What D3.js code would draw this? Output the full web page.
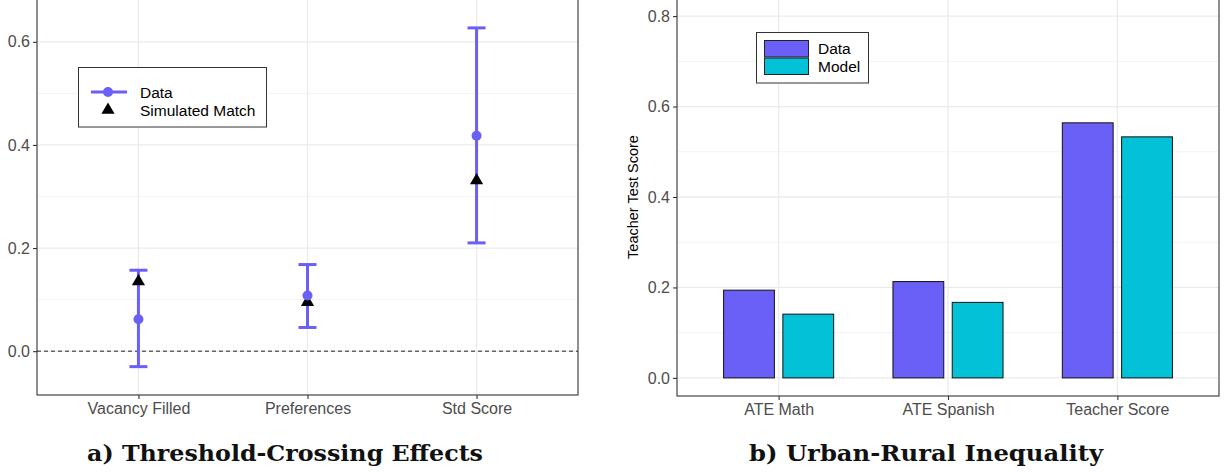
<!DOCTYPE html>
<html>
<head>
<meta charset="utf-8">
<script src="https://cdn.jsdelivr.net/npm/d3@7"></script>
<style>
html,body{margin:0;padding:0;background:#fff;}
svg{display:block;}
</style>
</head>
<body>
<svg id="chart" width="1225" height="472"></svg>
<script>
// ---- Panel a data ----
const catsA = ["Vacancy Filled", "Preferences", "Std Score"];
const estA  = [0.062, 0.108, 0.418];
const lowA  = [-0.030, 0.046, 0.210];
const highA = [0.157, 0.168, 0.627];
const simA  = [0.137, 0.097, 0.333];
const ticksA = [0, 0.2, 0.4, 0.6];
const minorA = [0.1, 0.3, 0.5];

// ---- Panel b data ----
const catsB = ["ATE Math", "ATE Spanish", "Teacher Score"];
const seriesB = ["Data", "Model"];
const dataB  = [0.194, 0.213, 0.564];
const modelB = [0.141, 0.167, 0.533];
const ticksB = [0, 0.2, 0.4, 0.6, 0.8];
const minorB = [0.1, 0.3, 0.5, 0.7];

const titleA = "a) Threshold-Crossing Effects";
const titleB = "b) Urban-Rural Inequality";
const yTitleB = "Teacher Test Score";

const purple = "#6a5ff7";
const cyan = "#03c2d7";
const gridCol = "#ebebeb";
const minorCol = "#f3f3f3";
const borderCol = "#333333";
const tickTextCol = "#4d4d4d";
const sans = "'Liberation Sans', Arial, sans-serif";

const svg = d3.select("#chart");
const fmt = d3.format(".1f");

function panel(g, xs, ys, ticks, minors, cats) {
  const [x0, x1] = xs.range();
  const [y0, y1] = ys.range();
  g.append("g").selectAll("line").data(minors).join("line")
    .attr("x1", x0).attr("x2", x1)
    .attr("y1", d => ys(d)).attr("y2", d => ys(d))
    .attr("stroke", minorCol).attr("stroke-width", 1);
  g.append("g").selectAll("line").data(ticks).join("line")
    .attr("x1", x0).attr("x2", x1)
    .attr("y1", d => ys(d)).attr("y2", d => ys(d))
    .attr("stroke", gridCol).attr("stroke-width", 1.3);
  g.append("g").selectAll("line").data(cats).join("line")
    .attr("x1", d => xs(d)).attr("x2", d => xs(d))
    .attr("y1", y0).attr("y2", y1)
    .attr("stroke", gridCol).attr("stroke-width", 1.3);
}

function axes(g, xs, ys, ticks) {
  const [x0, x1] = xs.range();
  const [y0, y1] = ys.range();
  g.append("rect").attr("x", x0).attr("y", y1).attr("width", x1 - x0).attr("height", y0 - y1)
    .attr("fill", "none").attr("stroke", borderCol).attr("stroke-width", 1.1);
  const ya = d3.axisLeft(ys).tickValues(ticks).tickFormat(fmt).tickSize(4).tickPadding(3);
  const yg = g.append("g").attr("transform", `translate(${x0},0)`).call(ya);
  const xa = d3.axisBottom(xs).tickSize(4).tickPadding(4);
  const xg = g.append("g").attr("transform", `translate(0,${y0})`).call(xa);
  [yg, xg].forEach(a => {
    a.select(".domain").remove();
    a.selectAll(".tick line").attr("stroke", borderCol).attr("stroke-width", 1.1);
    a.selectAll(".tick text").attr("fill", tickTextCol).style("font-family", sans).style("font-size", "16px");
  });
}

// ===== Panel a =====
const gA = svg.append("g");
const xA = d3.scalePoint().domain(catsA).range([37, 578]).padding(0.6);
const yA = d3.scaleLinear().domain([-0.085, 0.685]).range([395, -2]);
panel(gA, xA, yA, ticksA, minorA, catsA);
gA.append("line").attr("x1", 37).attr("x2", 578)
  .attr("y1", yA(0)).attr("y2", yA(0))
  .attr("stroke", "#222").attr("stroke-width", 1).attr("stroke-dasharray", "4,3");
const capW = 18;
const eb = gA.append("g");
catsA.forEach((c, i) => {
  const cx = xA(c);
  eb.append("line").attr("x1", cx).attr("x2", cx).attr("y1", yA(lowA[i])).attr("y2", yA(highA[i]))
    .attr("stroke", purple).attr("stroke-width", 3);
  [lowA[i], highA[i]].forEach(v => {
    eb.append("line").attr("x1", cx - capW / 2).attr("x2", cx + capW / 2).attr("y1", yA(v)).attr("y2", yA(v))
      .attr("stroke", purple).attr("stroke-width", 3);
  });
});
const tri = d3.symbol().type(d3.symbolTriangle).size(75);
gA.append("g").selectAll("path").data(catsA).join("path")
  .attr("d", tri)
  .attr("transform", (d, i) => `translate(${xA(d)},${yA(simA[i]) + 1})`)
  .attr("fill", "#000");
gA.append("g").selectAll("circle").data(catsA).join("circle")
  .attr("cx", d => xA(d)).attr("cy", (d, i) => yA(estA[i])).attr("r", 5)
  .attr("fill", purple);
axes(gA, xA, yA, ticksA);

// legend a
const lA = svg.append("g");
lA.append("rect").attr("x", 78.5).attr("y", 67.5).attr("width", 188).attr("height", 59.5)
  .attr("fill", "#fff").attr("stroke", "#333").attr("stroke-width", 1);
lA.append("line").attr("x1", 91).attr("x2", 127).attr("y1", 92).attr("y2", 92)
  .attr("stroke", purple).attr("stroke-width", 3);
lA.append("circle").attr("cx", 108).attr("cy", 92).attr("r", 5).attr("fill", purple);
lA.append("path").attr("d", tri).attr("transform", "translate(108,110)").attr("fill", "#000");
lA.append("text").attr("x", 140).attr("y", 98).text("Data")
  .style("font-family", sans).style("font-size", "15.5px").attr("fill", "#000");
lA.append("text").attr("x", 140).attr("y", 116).text("Simulated Match")
  .style("font-family", sans).style("font-size", "15.5px").attr("fill", "#000");

// ===== Panel b =====
const gB = svg.append("g");
const xB = d3.scalePoint().domain(catsB).range([677, 1219]).padding(0.6);
const yB = d3.scaleLinear().domain([-0.04, 0.84]).range([396, -2]);
panel(gB, xB, yB, ticksB, minorB, catsB);
const stepB = xB.step();
const xSub = d3.scaleBand().domain(seriesB).range([-0.35 * stepB, 0.35 * stepB])
  .paddingInner(1 / 7).paddingOuter(1 / 14);
const valsB = {Data: dataB, Model: modelB};
const colB = {Data: purple, Model: cyan};
seriesB.forEach(s => {
  gB.append("g").selectAll("rect").data(catsB).join("rect")
    .attr("x", d => xB(d) + xSub(s))
    .attr("width", xSub.bandwidth())
    .attr("y", (d, i) => yB(valsB[s][i]))
    .attr("height", (d, i) => yB(0) - yB(valsB[s][i]))
    .attr("fill", colB[s]).attr("stroke", "#111").attr("stroke-width", 1);
});
axes(gB, xB, yB, ticksB);
svg.append("text")
  .attr("transform", `translate(638,${(396 - 2) / 2}) rotate(-90)`)
  .attr("text-anchor", "middle")
  .style("font-family", sans).style("font-size", "14.5px").attr("fill", "#000")
  .text(yTitleB);

// legend b
const lB = svg.append("g");
lB.append("rect").attr("x", 756.5).attr("y", 32.5).attr("width", 112).attr("height", 50.5)
  .attr("fill", "#fff").attr("stroke", "#333").attr("stroke-width", 1);
seriesB.forEach((s, i) => {
  lB.append("rect").attr("x", 764.5).attr("y", 40.5 + i * 17.5).attr("width", 44).attr("height", 16.5)
    .attr("fill", colB[s]).attr("stroke", "#222").attr("stroke-width", 1);
  lB.append("text").attr("x", 818).attr("y", 54 + i * 18).text(s)
    .style("font-family", sans).style("font-size", "15.5px").attr("fill", "#000");
});

// titles
const serif = "'DejaVu Serif', 'Liberation Serif', serif";
svg.append("text").attr("x", 285).attr("y", 461).attr("text-anchor", "middle")
  .attr("textLength", 396).attr("lengthAdjust", "spacingAndGlyphs")
  .style("font-family", serif).style("font-weight", "bold").style("font-size", "22px").attr("fill", "#111")
  .text(titleA);
svg.append("text").attr("x", 926).attr("y", 461).attr("text-anchor", "middle")
  .attr("textLength", 354).attr("lengthAdjust", "spacingAndGlyphs")
  .style("font-family", serif).style("font-weight", "bold").style("font-size", "22px").attr("fill", "#111")
  .text(titleB);
</script>
</body>
</html>
